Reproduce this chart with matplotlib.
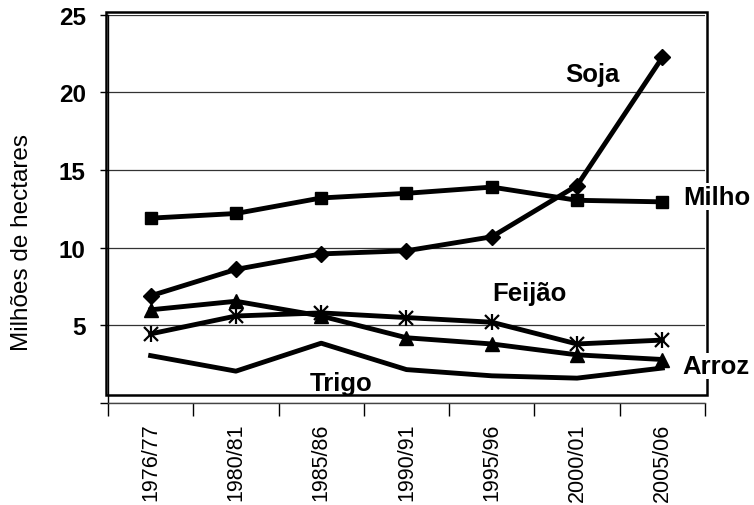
import matplotlib
matplotlib.use('Agg')
import matplotlib.pyplot as plt
import numpy as np
from matplotlib.patches import Rectangle

plt.rcParams['font.family'] = ['Liberation Sans', 'DejaVu Sans']

safras = ['1976/77', '1980/81', '1985/86', '1990/91', '1995/96', '2000/01', '2005/06']
soja = [6.9, 8.6, 9.6, 9.8, 10.7, 14.0, 22.25]
milho = [11.9, 12.2, 13.2, 13.5, 13.9, 13.05, 12.95]
feijao = [4.45, 5.6, 5.8, 5.5, 5.2, 3.8, 4.05]
arroz = [6.0, 6.55, 5.6, 4.2, 3.8, 3.1, 2.8]
trigo = [3.05, 2.05, 3.85, 2.15, 1.75, 1.6, 2.25]

x = np.arange(len(safras)) + 0.5

fig = plt.figure(figsize=(7.54, 5.06), dpi=100)
ax = fig.add_axes([0.1432, 0.2016, 0.7918, 0.7674])

lw = 3.5
ax.plot(x, milho, color='black', lw=lw, marker='s', ms=9, zorder=3)
ax.plot(x, soja, color='black', lw=lw, marker='D', ms=8, zorder=3)
ax.plot(x, arroz, color='black', lw=lw, marker='^', ms=10.5, zorder=3)
ax.plot(x, feijao, color='black', lw=lw, zorder=3)
ax.plot(x, feijao, ls='none', marker='x', ms=10, mew=1.6, color='black', zorder=4)
ax.plot(x, feijao, ls='none', marker='|', ms=12, mew=1.6, color='black', zorder=4)
ax.plot(x, trigo, color='black', lw=lw, zorder=3)

# series names, the ones on the right sit over the border
lab = dict(fontsize=18.5, fontweight='bold', color='black', ha='left', va='baseline', zorder=6)
ax.text(5.36, 20.75, 'Soja', **lab)
ax.text(4.50, 6.66, 'Feijão', **lab)
ax.text(2.37, 0.82, 'Trigo', **lab)
box = dict(facecolor='white', edgecolor='none', pad=1)
ax.text(6.74, 12.84, 'Milho', clip_on=False, bbox=box, **lab)
ax.text(6.74, 1.93, 'Arroz', clip_on=False, bbox=box, **lab)

ax.set_xlim(0, 7)
ax.set_ylim(0, 25)

ax.set_yticks([0, 5, 10, 15, 20, 25])
ax.set_yticklabels(['', '5', '10', '15', '20', '25'], fontsize=17.5, fontweight='bold')
ax.tick_params(axis='y', direction='out', length=6, width=1, pad=10)
ax.yaxis.grid(True, color='#333333', lw=0.9)
ax.set_axisbelow(True)

ax.set_xticks(np.arange(8))
ax.set_xticklabels([])
ax.set_xticks(x, minor=True)
ax.set_xticklabels(safras, minor=True, rotation=90, fontsize=15.5)
ax.tick_params(axis='x', which='major', direction='out', length=9, width=1)
ax.tick_params(axis='x', which='minor', length=0, pad=14)

for s in ['top', 'right']:
    ax.spines[s].set_visible(False)
ax.spines['left'].set_linewidth(1)
ax.spines['bottom'].set_linewidth(1)
ax.spines['bottom'].set_color('#444444')

# plot area border
ax.add_patch(Rectangle((0.1406, 0.2174), 0.797, 0.757, transform=fig.transFigure,
                       fill=False, edgecolor='black', lw=1.8, zorder=2.5, clip_on=False))

fig.text(0.029, 0.521, 'Milhões de hectares', rotation=90, ha='center', va='center', fontsize=17.5)

fig.savefig('out.png', dpi=100)
